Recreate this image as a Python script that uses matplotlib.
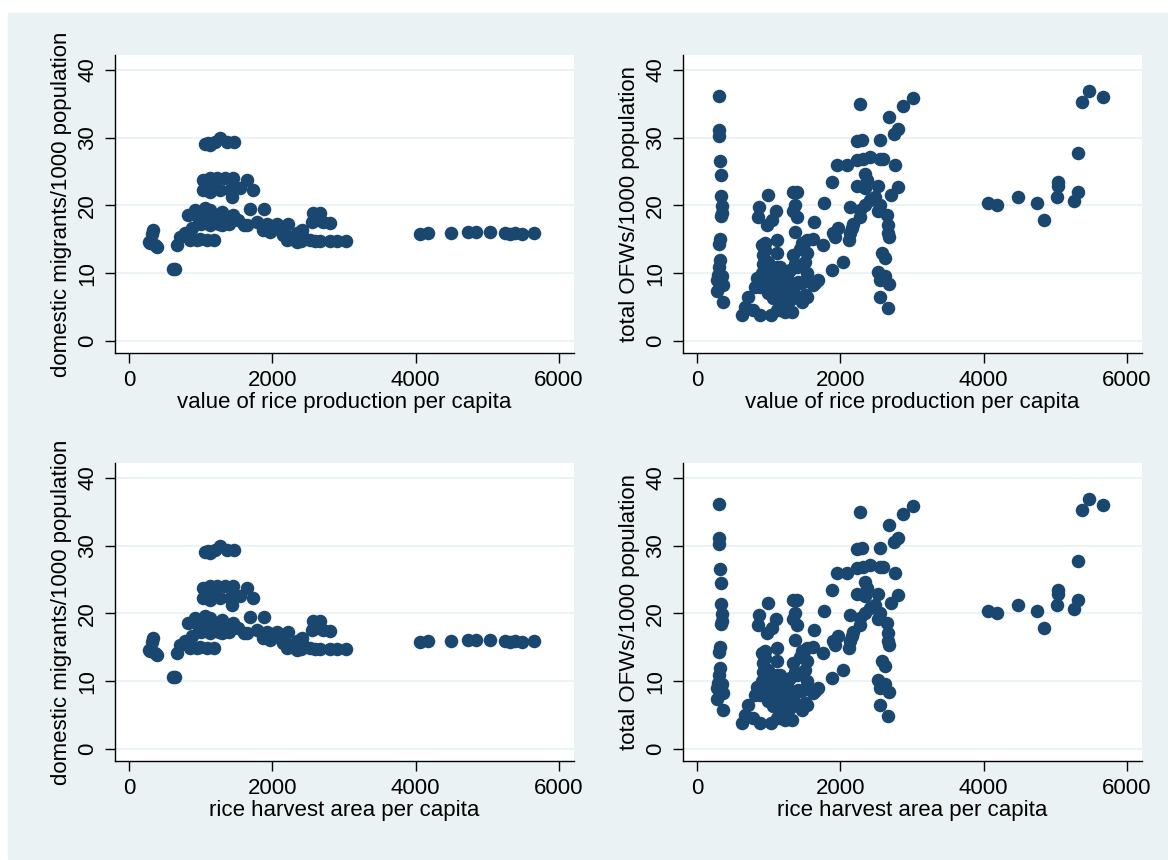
import matplotlib.pyplot as plt
from matplotlib.patches import Rectangle

# domestic migrants vs value of rice production per capita
dom_x = [330, 320, 280, 300, 360, 390, 642, 620, 665, 712, 780, 875, 944, 1084, 850, 990,
         828, 921, 1060, 1130, 967, 1084, 1130, 1223, 1363, 1456, 1526, 1642, 1688, 1888,
         1781, 1921, 2060, 2223, 1874, 1967, 2107, 2153, 2246, 2340, 2409, 2432, 2200, 2340,
         2525, 2665, 2805, 2898, 3023, 2572, 2665, 2549, 2712, 2805, 2618,
         1060, 1130, 1200, 1270, 1363, 1465, 1107,
         1037, 1130, 1223, 1340, 1456, 1642, 1037, 1130, 1270, 1409, 1549, 1735, 1433, 1177,
         1000, 1180, 1250, 1300, 1400, 1600, 2000, 2280, 2400, 2600, 1180, 1300, 1420,
         4060, 4176, 4488, 4735, 4837, 5037, 5246, 5316, 5386, 5479, 5656]
dom_y = [16.4, 15.8, 14.6, 14.4, 14.2, 13.9, 10.6, 10.6, 14.1, 15.4, 15.9, 16.6, 14.9, 14.9, 14.9, 15.1,
         18.6, 19.3, 19.6, 19.3, 18.3, 17.8, 17.1, 17.8, 18.3, 18.6, 17.8, 17.1, 19.4, 19.4,
         17.6, 17.3, 17.3, 17.3, 16.4, 16.1, 16.4, 15.6, 15.4, 15.9, 16.4, 15.4, 14.9, 14.6,
         14.9, 14.8, 14.8, 14.8, 14.8, 18.8, 18.8, 17.6, 17.6, 17.4, 17.8,
         29.0, 28.9, 29.4, 30.0, 29.4, 29.4, 29.2,
         23.8, 24.1, 24.0, 24.1, 24.0, 23.8, 22.2, 22.0, 22.3, 22.2, 22.5, 22.2, 21.2, 23.0,
         17.2, 18.0, 17.3, 17.1, 17.2, 17.1, 17.0, 15.0, 14.8, 14.8, 14.9, 19.0, 18.0,
         15.8, 15.9, 15.9, 16.0, 16.0, 16.0, 15.9, 15.8, 15.9, 15.8, 15.9]

# total OFWs vs value of rice production per capita
ofw_x = [312, 312, 312, 321, 330, 330, 344, 344, 340, 321, 312, 321, 312, 298, 344, 367, 284, 358, 274,
         623, 716, 670, 786, 879, 1028, 1158, 1321, 1228,
         870, 856, 986, 1102, 1042, 972, 949, 1112, 1112, 926, 926, 995, 902, 833, 809, 972, 1088,
         1158, 1042, 1158, 1065, 1158, 1251, 1298, 1367, 1344, 1437, 1298, 1414, 1507, 1460, 1530,
         1484, 1530, 1507, 1437, 1530, 1484, 1623, 1344, 1367, 1344, 1391, 1367, 1344, 1391, 1637,
         1753, 1623, 1693, 1646, 1879, 2032, 1777, 1879, 1949, 2088, 1902, 1972, 1925, 2135, 2181,
         2125, 2135, 2160, 2274, 2274, 2344, 2414, 2484, 2228, 2344, 2367, 2344, 2228, 2321, 2414,
         2553, 2600, 2763, 2228, 2298, 2274, 2553, 2530, 2553, 2530, 2646, 2670, 2670, 2684, 2577,
         2623, 2530, 2623, 2553, 2684, 2553, 2670, 2702, 2800, 2749, 2809, 2684, 2879, 3009,
         995, 1112, 1042, 1205, 1181, 1274, 1112, 1205, 1251, 1391, 1019, 879, 949, 902, 1530,
         1460, 1414,
         4065, 4181, 4484, 4749, 4842, 5019, 5042, 5042, 5265, 5312, 5312, 5377, 5474, 5660]
ofw_y = [36.2, 31.1, 30.2, 26.5, 24.5, 21.4, 19.9, 18.8, 18.4, 15.0, 14.3, 12.0, 10.9, 9.7, 9.5, 8.2, 7.4, 5.8, 9.0,
         3.8, 6.4, 5.0, 4.5, 3.8, 3.8, 4.5, 4.3, 4.3,
         19.7, 18.3, 21.6, 19.2, 17.8, 17.1, 14.4, 14.9, 12.9, 12.7, 11.4, 11.7, 10.0, 9.2, 8.0, 9.0, 9.5,
         10.9, 8.0, 7.0, 6.3, 8.0, 9.0, 10.4, 11.4, 7.5, 8.5, 6.0, 6.5, 6.7, 5.8, 6.5,
         8.7, 10.0, 11.7, 13.6, 14.9, 13.9, 15.1, 12.7, 16.1, 19.1, 18.3, 20.0, 22.0, 22.0, 17.6,
         14.1, 8.2, 9.0, 8.5, 10.4, 11.7, 20.4, 23.5, 26.0, 26.0, 15.9, 16.6, 15.4, 19.8, 17.3,
         14.9, 15.9, 16.6, 18.3, 19.3, 20.0, 20.8, 21.3, 22.8, 22.5, 23.7, 24.7, 26.7, 26.9, 27.2,
         26.9, 26.8, 26.0, 29.5, 29.7, 34.9, 29.7, 22.8, 20.0, 19.1, 18.6, 17.1, 15.9, 15.3, 12.9,
         12.2, 10.2, 9.5, 9.0, 8.4, 6.5, 4.9, 21.5, 22.7, 30.6, 31.2, 33.0, 34.7, 35.8,
         7.0, 10.9, 10.2, 10.0, 8.5, 7.0, 4.5, 5.5, 9.7, 10.9, 9.0, 8.0, 13.4, 14.1, 12.9,
         14.4, 8.7,
         20.4, 20.1, 21.2, 20.4, 17.8, 21.3, 22.8, 23.5, 20.7, 22.0, 27.8, 35.3, 36.9, 36.0]

# the harvest-area panels show the same observations
panels = [
    (dom_x, dom_y, 'value of rice production per capita', 'domestic migrants/1000 population'),
    (ofw_x, ofw_y, 'value of rice production per capita', 'total OFWs/1000 population'),
    (dom_x, dom_y, 'rice harvest area per capita', 'domestic migrants/1000 population'),
    (ofw_x, ofw_y, 'rice harvest area per capita', 'total OFWs/1000 population'),
]

bg = '#eaf2f3'
navy = '#1a476f'
W, H = 1168, 860

plt.rcParams['font.family'] = ['Liberation Sans', 'DejaVu Sans']
fig = plt.figure(figsize=(W / 100, H / 100), dpi=100)
fig.patches.append(Rectangle((8 / W, 0.001), 1 - 8 / W, 1 - 13 / H - 0.001,
                             transform=fig.transFigure, color=bg, zorder=-10))

lefts = [115, 683, 115, 683]
tops = [55, 55, 463, 463]
for (x, y, xl, yl), l, t in zip(panels, lefts, tops):
    ax = fig.add_axes([l / W, 1 - (t + 298) / H, 459 / W, 298 / H])
    ax.set_facecolor('white')
    ax.scatter(x, y, s=95, color=navy, linewidths=0, zorder=3)
    ax.set_xlim(-195, 6209)
    ax.set_ylim(-1.8, 42.2)
    ax.set_xticks([0, 2000, 4000, 6000])
    ax.set_yticks([0, 10, 20, 30, 40])
    ax.yaxis.grid(True, color=bg, linewidth=1.3)
    ax.set_axisbelow(True)
    for s in ['top', 'right']:
        ax.spines[s].set_visible(False)
    for s in ['left', 'bottom']:
        ax.spines[s].set_linewidth(1.0)
    ax.tick_params(length=7, width=1.0, labelsize=16, pad=5)
    for lab in ax.get_yticklabels():
        lab.set_rotation(90)
        lab.set_va('center')
    ax.set_xlabel(xl, fontsize=16, labelpad=1)
    ax.set_ylabel(yl, fontsize=16, labelpad=4)

fig.savefig('out.png', dpi=100)
